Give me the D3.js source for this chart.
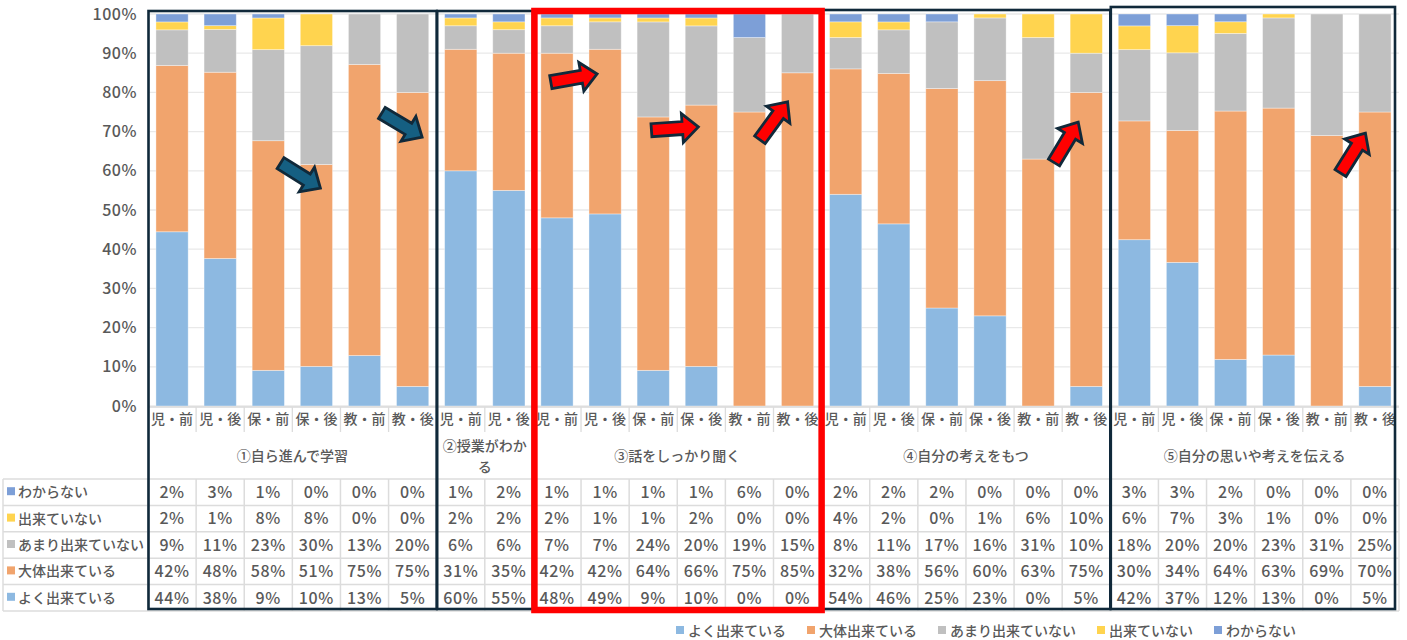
<!DOCTYPE html>
<html>
<head>
<meta charset="utf-8">
<script src="https://cdn.jsdelivr.net/npm/d3@7"></script>
<style>
  body { margin: 0; background: #fff; }
  text { font-family: "Noto Sans CJK JP", "Noto Sans", sans-serif; fill: #595959; }
</style>
</head>
<body>
<svg id="chart" width="1407" height="640"></svg>
<script>
// ---- data -------------------------------------------------------------
const categories = [
  "児・前","児・後","保・前","保・後","教・前","教・後",
  "児・前","児・後",
  "児・前","児・後","保・前","保・後","教・前","教・後",
  "児・前","児・後","保・前","保・後","教・前","教・後",
  "児・前","児・後","保・前","保・後","教・前","教・後"
];
const groupLabels = ["①自ら進んで学習", "②授業がわかる", "③話をしっかり聞く", "④自分の考えをもつ", "⑤自分の思いや考えを伝える"];
const groupSizes = [6, 2, 6, 6, 6];

const seriesNames = ["よく出来ている", "大体出来ている", "あまり出来ていない", "出来ていない", "わからない"];
const seriesColors = ["#8db9e1", "#f1a46d", "#c0c0c0", "#ffd44f", "#7d9fd7"];

const yoku       = [44,38,9,10,13,5, 60,55, 48,49,9,10,0,0, 54,46,25,23,0,5, 42,37,12,13,0,5];
const daitai     = [42,48,58,51,75,75, 31,35, 42,42,64,66,75,85, 32,38,56,60,63,75, 30,34,64,63,69,70];
const amari      = [9,11,23,30,13,20, 6,6, 7,7,24,20,19,15, 8,11,17,16,31,10, 18,20,20,23,31,25];
const dekiteinai = [2,1,8,8,0,0, 2,2, 2,1,1,2,0,0, 4,2,0,1,6,10, 6,7,3,1,0,0];
const wakaranai  = [2,3,1,0,0,0, 1,2, 1,1,1,1,6,0, 2,2,2,0,0,0, 3,3,2,0,0,0];

const yTicks = [0, 0.1, 0.2, 0.3, 0.4, 0.5, 0.6, 0.7, 0.8, 0.9, 1];

// ---- setup ------------------------------------------------------------
const svg = d3.select("#chart");
const seriesValues = [yoku, daitai, amari, dekiteinai, wakaranai];
const rows = categories.map((c, i) => {
  const r = { i };
  seriesNames.forEach((s, k) => r[s] = seriesValues[k][i]);
  return r;
});

const plotLeft = 148, plotRight = 1399, plotTop = 14, plotBottom = 406;
const x = d3.scaleBand().domain(d3.range(categories.length)).range([plotLeft, plotRight])
  .paddingInner(0.33).paddingOuter(0.165);
const y = d3.scaleLinear().domain([0, 1]).range([plotBottom, plotTop]);
const step = x.step();
const edge = k => plotLeft + k * step;
const center = i => x(i) + x.bandwidth() / 2;

// gridlines
svg.append("g").selectAll("line").data(yTicks).join("line")
  .attr("x1", plotLeft).attr("x2", plotRight)
  .attr("y1", d => y(d)).attr("y2", d => y(d))
  .attr("stroke", "#e9e9e9").attr("stroke-width", 1.3);

// y axis labels
const yAxis = svg.append("g").attr("transform", `translate(${plotLeft},0)`)
  .call(d3.axisLeft(y).tickValues(yTicks).tickFormat(d3.format(".0%")).tickSize(0).tickPadding(11));
yAxis.select(".domain").remove();
yAxis.selectAll("text").attr("font-size", 16).attr("fill", "#595959").attr("font-weight", 500)
  .style("font-family", '"Noto Sans CJK JP", sans-serif').attr("letter-spacing", 0.5);

// stacked 100% bars
const stack = d3.stack().keys(seriesNames).offset(d3.stackOffsetExpand);
const stacked = stack(rows);
svg.append("g").selectAll("g").data(stacked).join("g")
  .attr("fill", (d, k) => seriesColors[k])
  .selectAll("rect").data(d => d).join("rect")
  .attr("x", d => x(d.data.i))
  .attr("width", x.bandwidth())
  .attr("y", d => y(d[1]))
  .attr("height", d => Math.max(0, y(d[0]) - y(d[1])))
  .attr("stroke", "rgba(255,255,255,0.45)").attr("stroke-width", 0.8);

// baseline
svg.append("line").attr("x1", plotLeft).attr("x2", plotRight)
  .attr("y1", plotBottom + 1).attr("y2", plotBottom + 1)
  .attr("stroke", "#d9d9d9").attr("stroke-width", 1.3);

// ---- category axis & group labels --------------------------------------
const catTop = 407, catBottom = 432, groupBottom = 479;
const xAxis = svg.append("g").attr("transform", `translate(0,${catTop})`)
  .call(d3.axisBottom(x).tickFormat(i => categories[i]).tickSize(0).tickPadding(4));
xAxis.select(".domain").remove();
xAxis.selectAll("text").attr("font-size", 14).attr("fill", "#595959").attr("font-weight", 500)
  .style("font-family", '"Noto Sans CJK JP", sans-serif').attr("dy", "0.9em");

svg.append("g").selectAll("line").data(d3.range(1, categories.length)).join("line")
  .attr("x1", k => edge(k)).attr("x2", k => edge(k))
  .attr("y1", catTop).attr("y2", catBottom)
  .attr("stroke", "#dcdcdc").attr("stroke-width", 1.3);

let startCol = 0;
const groupSpans = groupSizes.map(n => { const s = { from: startCol, to: startCol + n }; startCol += n; return s; });
groupLabels.forEach((label, g) => {
  const span = groupSpans[g];
  const w = edge(span.to) - edge(span.from);
  const maxChars = Math.floor((w - 8) / 14);
  const lines = [];
  for (let p = 0; p < label.length; p += maxChars) lines.push(label.slice(p, p + maxChars));
  const cx = (edge(span.from) + edge(span.to)) / 2;
  const cy = (catBottom + groupBottom) / 2 + 1;
  const lh = 21;
  const t = svg.append("text").attr("x", cx).attr("text-anchor", "middle")
    .attr("font-size", 14).attr("font-weight", 500).attr("fill", "#595959");
  lines.forEach((ln, j) => {
    t.append("tspan").attr("x", cx)
      .attr("y", cy + (j - (lines.length - 1) / 2) * lh)
      .attr("dy", "0.35em").text(ln);
  });
});

// ---- data table ---------------------------------------------------------
const tableLeft = 3, tableTop = 479, rowH = 26.4;
const tableOrder = [4, 3, 2, 1, 0];  // わからない ... よく出来ている
const tg = svg.append("g");
d3.range(tableOrder.length + 1).forEach(r => {
  tg.append("line").attr("x1", tableLeft).attr("x2", plotRight)
    .attr("y1", tableTop + r * rowH).attr("y2", tableTop + r * rowH)
    .attr("stroke", "#dcdcdc").attr("stroke-width", 1.5);
});
[tableLeft].concat(d3.range(0, categories.length + 1).map(edge)).forEach(xx => {
  tg.append("line").attr("x1", xx).attr("x2", xx)
    .attr("y1", tableTop).attr("y2", tableTop + tableOrder.length * rowH)
    .attr("stroke", "#dcdcdc").attr("stroke-width", 1.5);
});
tableOrder.forEach((k, r) => {
  const cy = tableTop + (r + 0.5) * rowH;
  tg.append("rect").attr("x", 7).attr("y", cy - 5).attr("width", 8).attr("height", 8)
    .attr("fill", seriesColors[k]);
  tg.append("text").attr("x", 18).attr("y", cy).attr("dy", "0.35em")
    .attr("font-size", 14).attr("font-weight", 500).text(seriesNames[k]);
  tg.selectAll(null).data(seriesValues[k]).join("text")
    .attr("x", (v, i) => center(i)).attr("y", cy).attr("dy", "0.36em")
    .attr("text-anchor", "middle").attr("font-size", 16).attr("font-weight", 500)
    .attr("letter-spacing", 0.6)
    .text(v => v + "%");
});

// ---- group frames -------------------------------------------------------
const frames = [
  { span: groupSpans[0], top: 11, color: "#10293a", width: 2.6 },
  { span: groupSpans[1], top: 11, color: "#10293a", width: 2.6 },
  { span: groupSpans[3], top: 10, color: "#10293a", width: 2.6 },
  { span: groupSpans[4], top: 7, color: "#10293a", width: 2.6 },
  { span: groupSpans[2], top: 11, color: "#ff0000", width: 6.5 }
];
frames.forEach(f => {
  const x0 = edge(f.span.from) + (f.color === "#ff0000" ? 1.5 : 0.5);
  const x1 = Math.min(edge(f.span.to), 1395);
  const bottom = f.color === "#ff0000" ? 610 : 609;
  svg.append("rect").attr("x", x0).attr("y", f.top)
    .attr("width", x1 - x0).attr("height", bottom - f.top)
    .attr("fill", "none").attr("stroke", f.color).attr("stroke-width", f.width);
});

// ---- arrows -------------------------------------------------------------
const arrows = [
  { col: 3,  dx: 4,   pct: 0.556, angle: 32,  fill: "#155f82" },
  { col: 5,  dx: 9.5, pct: 0.686, angle: 31,  fill: "#155f82" },
  { col: 9,  dx: -8,  pct: 0.847, angle: -10, fill: "#ff0000" },
  { col: 11, dx: -3,  pct: 0.712, angle: -4,  fill: "#ff0000" },
  { col: 13, dx: -10, pct: 0.776, angle: -54, fill: "#ff0000" },
  { col: 19, dx: -8,  pct: 0.724, angle: -59, fill: "#ff0000" },
  { col: 25, dx: -9.5,pct: 0.696, angle: -58, fill: "#ff0000" }
];
const arrowShape = [[0,0],[-16,-14.5],[-16,-6.5],[-47,-6.5],[-47,6.5],[-16,6.5],[-16,14.5]];
svg.append("g").selectAll("path").data(arrows).join("path")
  .attr("d", "M" + arrowShape.map(p => p.join(",")).join("L") + "Z")
  .attr("transform", a => `translate(${center(a.col) + a.dx},${y(a.pct)}) rotate(${a.angle})`)
  .attr("fill", a => a.fill).attr("stroke", "#10293a").attr("stroke-width", 2.8)
  .attr("stroke-linejoin", "miter");

// ---- legend -------------------------------------------------------------
const lg = svg.append("g");
let lx = 676;
const ly = 631;
seriesNames.forEach((name, k) => {
  lg.append("rect").attr("x", lx).attr("y", ly - 5).attr("width", 8).attr("height", 8)
    .attr("fill", seriesColors[k]);
  const t = lg.append("text").attr("x", lx + 12).attr("y", ly).attr("dy", "0.35em")
    .attr("font-size", 14).attr("font-weight", 500).text(name);
  lx += 12 + t.node().getComputedTextLength() + 21;
});
</script>
</body>
</html>
